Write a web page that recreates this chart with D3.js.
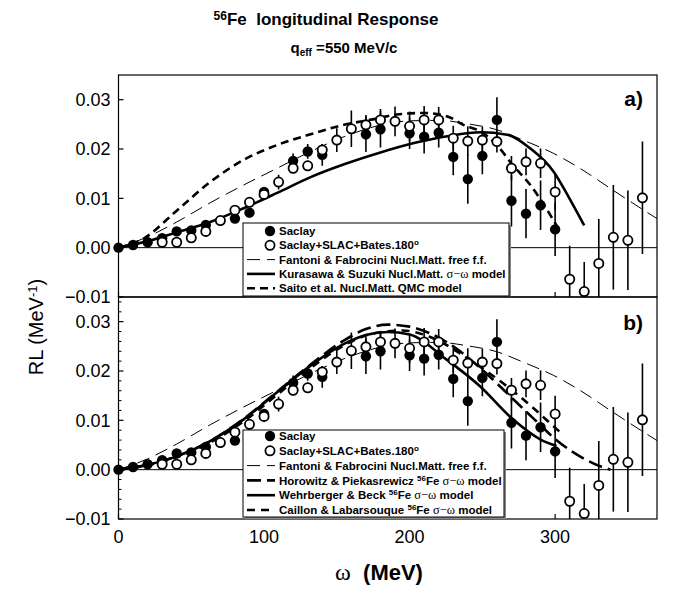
<!DOCTYPE html>
<html><head><meta charset="utf-8">
<script src="https://cdn.jsdelivr.net/npm/d3@7/dist/d3.min.js"></script>
<style>body{margin:0;background:#fff}svg{display:block}text{white-space:pre}</style>
</head><body>
<script>
// ---------- DATA ----------
const yTicks = [-0.01, 0.00, 0.01, 0.02, 0.03];
const xTicks = [0, 100, 200, 300];

const saclayW   = [0,10,20,30,40,50,60,80,90,100,120,130,140,170,180,200,210,220,230,240,250,260,270,280,290,300];
const saclayV   = [0,0.00055,0.0011,0.0019,0.0033,0.0035,0.0046,0.0059,0.0071,0.0113,0.0176,0.0195,0.0188,0.0230,0.0240,0.0232,0.0225,0.0233,0.0184,0.0139,0.0186,0.0259,0.0095,0.0069,0.0086,0.0037];
const saclayErr = [0,0,0,0,0,0,0,0,0.001,0.001,0.0015,0.0015,0.0022,0.0036,0.0037,0.0032,0.0034,0.003,0.0037,0.005,0.0037,0.0046,0.0052,0.005,0.005,0.0054];

const combW   = [30,40,50,60,70,80,90,100,110,120,130,140,150,160,170,180,190,200,210,220,230,240,250,260,270,280,290,300,310,320,330,340,350,360];
const combV   = [0.0011,0.0011,0.0020,0.0033,0.0055,0.0076,0.0092,0.0108,0.0133,0.0161,0.0166,0.0198,0.0218,0.0241,0.0249,0.0259,0.0256,0.0246,0.0259,0.0259,0.0222,0.0216,0.0218,0.0215,0.0161,0.0174,0.0171,0.0113,-0.0064,-0.0089,-0.0032,0.0021,0.0015,0.0101];
const combErr = [0,0,0,0,0,0,0.0005,0.001,0.0015,0.001,0.001,0.0012,0.0024,0.0037,0.002,0.0022,0.003,0.003,0.0028,0.0026,0.0025,0.003,0.0027,0.0022,0.0025,0.0027,0.003,0.0037,0.0068,0.006,0.009,0.0106,0.0101,0.0114];

const fantW = [0,20,40,63,86,109,132,155,178,200,220,240,260,278,299,317,340,363,370];
const fantV = [0,0.0022,0.0052,0.0091,0.0127,0.0161,0.0195,0.0225,0.0247,0.0257,0.0258,0.0251,0.0239,0.0218,0.0191,0.0161,0.0116,0.0072,0.0059];

const kurW = [0,20,40,63,86,109,132,155,180,203,226,249,267,283,299,310,320];
const kurV = [0,0.0013,0.0031,0.0052,0.0080,0.0111,0.0143,0.0169,0.0193,0.0212,0.0226,0.0234,0.0229,0.0201,0.0154,0.0099,0.0045];

const saiW = [0,17,40,63,86,109,132,155,178,191,210,226,237,249,260,271,283,294,301];
const saiV = [0,0.0018,0.0075,0.0133,0.0178,0.0208,0.0230,0.0249,0.0262,0.0270,0.0273,0.0266,0.0249,0.0235,0.0208,0.0167,0.0127,0.0079,0.0045];

const wehW = [0,20,40,63,86,109,132,155,170,185,200,225,248,271,290,301];
const wehV = [0,0.0010,0.0027,0.0058,0.0102,0.0157,0.0211,0.0255,0.0273,0.0279,0.0274,0.0224,0.0170,0.0102,0.0061,0.0048];

const horW = [0,20,40,63,86,109,132,155,170,185,200,215,230,245,260,275,290,300,310,320,330,338];
const horV = [0,0.0010,0.0027,0.0058,0.0103,0.0158,0.0213,0.0262,0.0285,0.0294,0.0290,0.0275,0.0250,0.0215,0.0175,0.0132,0.0090,0.0062,0.0040,0.0022,0.0008,0];

const caiW = [0,20,40,63,86,109,132,155,175,195,215,235,255,270,285,300,305];
const caiV = [0,0.0009,0.0025,0.0055,0.0098,0.0152,0.0206,0.0252,0.0276,0.0282,0.0268,0.0235,0.0195,0.0162,0.0125,0.0085,0.0072];

// ---------- LAYOUT ----------
const W = 674, H = 590;
const FONT = "'Liberation Sans', Arial, Helvetica, sans-serif";
const SERIF = "'Liberation Serif', 'Times New Roman', serif";
const svg = d3.select("body").append("svg").attr("width", W).attr("height", H)
  .style("font-family", FONT);

const x = d3.scaleLinear().domain([0, 370]).range([118.5, 657]);
const panels = [
  {id: "a", y: d3.scaleLinear().domain([-0.01, 0.035]).range([297, 75]), minor: false,
   curves: [
     {w: fantW, v: fantV, width: 1, dash: "13,7"},
     {w: kurW, v: kurV, width: 2.6, dash: null},
     {w: saiW, v: saiV, width: 2.6, dash: "8,5"}
   ],
   legend: {x: 243, y: 223, w: 266, h: 73, rows: [
     {type: "filled", text: [["Saclay"]]},
     {type: "open", text: [["Saclay+SLAC+Bates.180"], ["o", "sup"]]},
     {type: "line", width: 1, dash: "13,7", text: [["Fantoni & Fabrocini Nucl.Matt. free f.f."]]},
     {type: "line", width: 2.6, dash: null, text: [["Kurasawa & Suzuki Nucl.Matt. "], ["σ−ω", "serif"], [" model"]]},
     {type: "line", width: 2.6, dash: "8,5", text: [["Saito et al. Nucl.Matt. QMC model"]]}
   ], y0: 231, dy: 14.3},
   label: {text: "a)", y: 106}},
  {id: "b", y: d3.scaleLinear().domain([-0.01, 0.035]).range([519, 297]), minor: true,
   curves: [
     {w: fantW, v: fantV, width: 1, dash: "13,7"},
     {w: horW, v: horV, width: 2.6, dash: "14,6"},
     {w: wehW, v: wehV, width: 2.6, dash: null},
     {w: caiW, v: caiV, width: 2.6, dash: "8,6"}
   ],
   legend: {x: 243, y: 430, w: 261, h: 87, rows: [
     {type: "filled", text: [["Saclay"]]},
     {type: "open", text: [["Saclay+SLAC+Bates.180"], ["o", "sup"]]},
     {type: "line", width: 1, dash: "13,7", text: [["Fantoni & Fabrocini Nucl.Matt. free f.f."]]},
     {type: "line", width: 2.6, dash: "14,6", text: [["Horowitz & Piekasrewicz "], ["56", "sup"], ["Fe "], ["σ−ω", "serif"], [" model"]]},
     {type: "line", width: 2.6, dash: null, text: [["Wehrberger & Beck "], ["56", "sup"], ["Fe "], ["σ−ω", "serif"], [" model"]]},
     {type: "line", width: 2.6, dash: "8,6", text: [["Caillon & Labarsouque "], ["56", "sup"], ["Fe "], ["σ−ω", "serif"], [" model"]]}
   ], y0: 436, dy: 14.8},
   label: {text: "b)", y: 330}}
];

const x0 = x.range()[0], x1 = x.range()[1];

panels.forEach(p => {
  const y = p.y;
  const g = svg.append("g");
  const yTop = y.range()[1], yBot = y.range()[0];
  const clipId = "clip" + p.id;
  svg.append("clipPath").attr("id", clipId).append("rect")
    .attr("x", x0).attr("y", yTop).attr("width", x1 - x0).attr("height", yBot - yTop);
  const plot = g.append("g").attr("clip-path", `url(#${clipId})`);

  plot.append("line").attr("x1", x0).attr("x2", x1).attr("y1", y(0)).attr("y2", y(0))
    .attr("stroke", "#000").attr("stroke-width", 1);

  p.curves.forEach(c => {
    const pts = c.w.map((w, i) => [w, c.v[i]]);
    plot.append("path").datum(pts)
      .attr("d", d3.line().x(d => x(d[0])).y(d => y(d[1])).curve(d3.curveMonotoneX))
      .attr("fill", "none").attr("stroke", "#000").attr("stroke-width", c.width)
      .attr("stroke-dasharray", c.dash);
  });

  saclayW.forEach((w, i) => {
    if (saclayErr[i] > 0) plot.append("line").attr("x1", x(w)).attr("x2", x(w))
      .attr("y1", y(saclayV[i] - saclayErr[i])).attr("y2", y(saclayV[i] + saclayErr[i]))
      .attr("stroke", "#000").attr("stroke-width", 1.6);
  });
  combW.forEach((w, i) => {
    if (combErr[i] > 0) plot.append("line").attr("x1", x(w)).attr("x2", x(w))
      .attr("y1", y(combV[i] - combErr[i])).attr("y2", y(combV[i] + combErr[i]))
      .attr("stroke", "#000").attr("stroke-width", 1.6);
  });

  saclayW.forEach((w, i) => {
    g.append("circle").attr("cx", x(w)).attr("cy", y(saclayV[i])).attr("r", 5.2).attr("fill", "#000");
  });
  combW.forEach((w, i) => {
    g.append("circle").attr("cx", x(w)).attr("cy", y(combV[i])).attr("r", 4.6)
      .attr("fill", "#fff").attr("stroke", "#000").attr("stroke-width", 1.8);
  });

  g.append("rect").attr("x", x0).attr("y", yTop).attr("width", x1 - x0).attr("height", yBot - yTop)
    .attr("fill", "none").attr("stroke", "#000").attr("stroke-width", 1.2);

  yTicks.forEach(t => {
    g.append("line").attr("x1", x0).attr("x2", x0 + 5).attr("y1", y(t)).attr("y2", y(t))
      .attr("stroke", "#000").attr("stroke-width", 1.2);
    g.append("text").attr("x", x0 - 8).attr("y", y(t)).attr("dy", "0.36em")
      .attr("text-anchor", "end").attr("font-size", 18).text(d3.format(".2f")(t));
  });
  if (p.minor) {
    d3.range(-0.01, 0.035, 0.002).forEach(t => {
      if (Math.abs(Math.round(t * 100) - t * 100) > 1e-6)
        g.append("line").attr("x1", x0).attr("x2", x0 + 3).attr("y1", y(t)).attr("y2", y(t))
          .attr("stroke", "#000").attr("stroke-width", 1);
    });
  }
  xTicks.forEach(t => {
    g.append("line").attr("x1", x(t)).attr("x2", x(t)).attr("y1", yBot).attr("y2", yBot - 5)
      .attr("stroke", "#000").attr("stroke-width", 1.2);
  });

  const L = p.legend;
  g.append("rect").attr("x", L.x + 2).attr("y", L.y + 2).attr("width", L.w).attr("height", L.h)
    .attr("fill", "#888");
  g.append("rect").attr("x", L.x).attr("y", L.y).attr("width", L.w).attr("height", L.h)
    .attr("fill", "#fff").attr("stroke", "#000").attr("stroke-width", 1);
  L.rows.forEach((r, i) => {
    const cy = L.y0 + i * L.dy;
    if (r.type === "filled") g.append("circle").attr("cx", 270).attr("cy", cy).attr("r", 5.2).attr("fill", "#000");
    else if (r.type === "open") g.append("circle").attr("cx", 270).attr("cy", cy).attr("r", 4.6)
      .attr("fill", "#fff").attr("stroke", "#000").attr("stroke-width", 1.8);
    else g.append("line").attr("x1", 247).attr("x2", 275).attr("y1", cy).attr("y2", cy)
      .attr("stroke", "#000").attr("stroke-width", r.width).attr("stroke-dasharray", r.dash);
    const t = g.append("text").attr("x", 279).attr("y", cy).attr("dy", "0.36em")
      .attr("font-size", 11.5).attr("font-weight", "bold");
    r.text.forEach(seg => {
      const ts = t.append("tspan").text(seg[0]);
      if (seg[1] === "sup") ts.attr("font-size", 8).attr("baseline-shift", "45%");
      if (seg[1] === "serif") ts.attr("font-family", SERIF).attr("font-weight", "normal").attr("font-size", 12.5);
    });
  });

  g.append("text").attr("x", 643).attr("y", p.label.y).attr("text-anchor", "end")
    .attr("font-size", 21).attr("font-weight", "bold").text(p.label.text);
});

xTicks.forEach(t => {
  svg.append("text").attr("x", x(t)).attr("y", 543).attr("text-anchor", "middle")
    .attr("font-size", 18).text(t);
});

const xt = svg.append("text").attr("x", 379).attr("y", 580).attr("text-anchor", "middle")
  .attr("font-size", 22).attr("font-weight", "bold");
xt.append("tspan").attr("font-family", SERIF).attr("font-weight", "normal").attr("font-size", 24).text("ω");
xt.append("tspan").text("  (MeV)");

const yt = svg.append("text").attr("transform", "translate(43,327) rotate(-90)")
  .attr("text-anchor", "middle").attr("font-size", 20);
yt.append("tspan").text("RL (MeV");
yt.append("tspan").attr("font-size", 13).attr("baseline-shift", "45%").text("-1");
yt.append("tspan").text(")");

const t1 = svg.append("text").attr("x", 326).attr("y", 25).attr("text-anchor", "middle")
  .attr("font-size", 17).attr("font-weight", "bold");
t1.append("tspan").attr("font-size", 12).attr("baseline-shift", "45%").text("56");
t1.append("tspan").text("Fe  longitudinal Response");

const t2 = svg.append("text").attr("x", 344).attr("y", 53).attr("text-anchor", "middle")
  .attr("font-size", 15).attr("font-weight", "bold");
t2.append("tspan").text("q");
t2.append("tspan").attr("font-size", 10).attr("baseline-shift", "-30%").text("eff");
t2.append("tspan").text(" =550 MeV/c");
</script>
</body></html>
